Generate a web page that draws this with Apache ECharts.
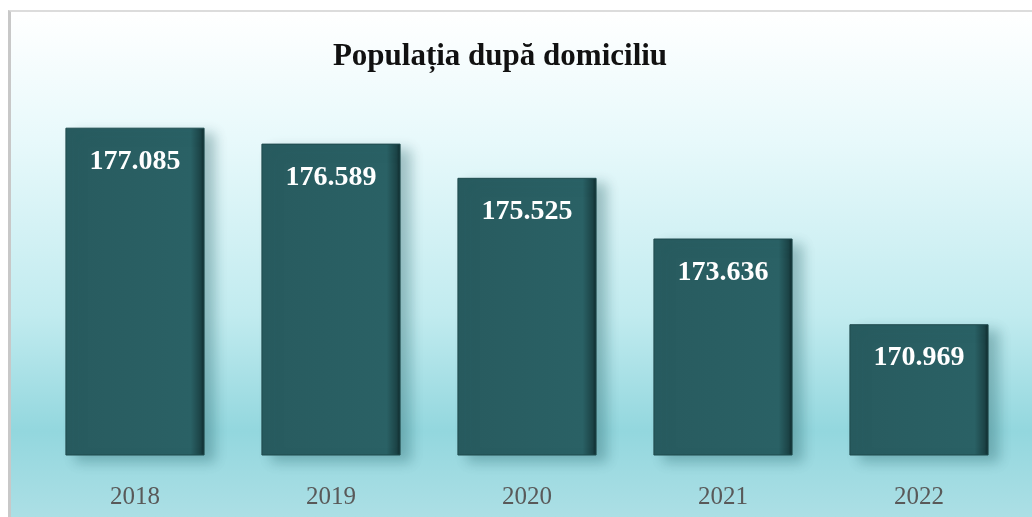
<!DOCTYPE html>
<html>
<head>
<meta charset="utf-8">
<script src="https://cdn.jsdelivr.net/npm/echarts@6/dist/echarts.min.js"></script>
<style>
  html, body { margin: 0; padding: 0; background: #ffffff; }
  #frame {
    position: absolute; left: 8px; top: 10px; width: 1024px; height: 507px;
    border-left: 3px solid #c8c8c8; border-top: 2px solid #dcdcdc;
    box-sizing: border-box;
  }
  #chart { width: 100%; height: 100%; }
</style>
</head>
<body>
<div id="frame"><div id="chart"></div></div>
<script>
var years = ['2018', '2019', '2020', '2021', '2022'];
var population = [177085, 176589, 175525, 173636, 170969];

var chart = echarts.init(document.getElementById('chart'));

function fmt(v) {
  // 177085 -> 177.085
  return String(v).replace(/\B(?=(\d{3})+(?!\d))/g, '.');
}

var option = {
  backgroundColor: new echarts.graphic.LinearGradient(0, 0, 0, 1, [
    { offset: 0, color: '#ffffff' },
    { offset: 0.25, color: '#e8f9fb' },
    { offset: 0.6, color: '#c1ebef' },
    { offset: 0.83, color: '#93d7de' },
    { offset: 1, color: '#acdfe5' }
  ]),
  title: {
    text: 'Populația după domiciliu',
    left: 484,
    top: 24,
    textAlign: 'center',
    textStyle: {
      fontFamily: 'Liberation Serif',
      fontWeight: 'bold',
      fontSize: 31,
      color: '#111111'
    }
  },
  grid: { left: 26, right: 15, top: 22, bottom: 62, containLabel: false },
  xAxis: {
    type: 'category',
    data: years,
    axisLine: { show: false },
    axisTick: { show: false },
    axisLabel: {
      margin: 30,
      fontFamily: 'Liberation Serif',
      fontSize: 25,
      color: '#595959'
    }
  },
  yAxis: {
    type: 'value',
    min: 166900,
    max: 180000,
    show: false,
    splitLine: { show: false }
  },
  series: [{
    type: 'bar',
    data: population,
    barWidth: '71%',
    itemStyle: {
      color: new echarts.graphic.LinearGradient(0, 0, 1, 0, [
        { offset: 0, color: '#285b5f' },
        { offset: 0.9, color: '#2a6165' },
        { offset: 0.97, color: '#1c4447' },
        { offset: 1, color: '#0f2a2c' }
      ]),
      borderColor: '#1f4a4d',
      borderWidth: 1,
      shadowColor: 'rgba(30,90,95,0.35)',
      shadowBlur: 12,
      shadowOffsetX: 10,
      shadowOffsetY: 6
    },
    label: {
      show: true,
      position: 'insideTop',
      distance: 20,
      formatter: function (p) { return fmt(p.value); },
      fontFamily: 'Liberation Serif',
      fontWeight: 'bold',
      fontSize: 28,
      color: '#ffffff'
    }
  }]
};

chart.setOption(option);
</script>
</body>
</html>
